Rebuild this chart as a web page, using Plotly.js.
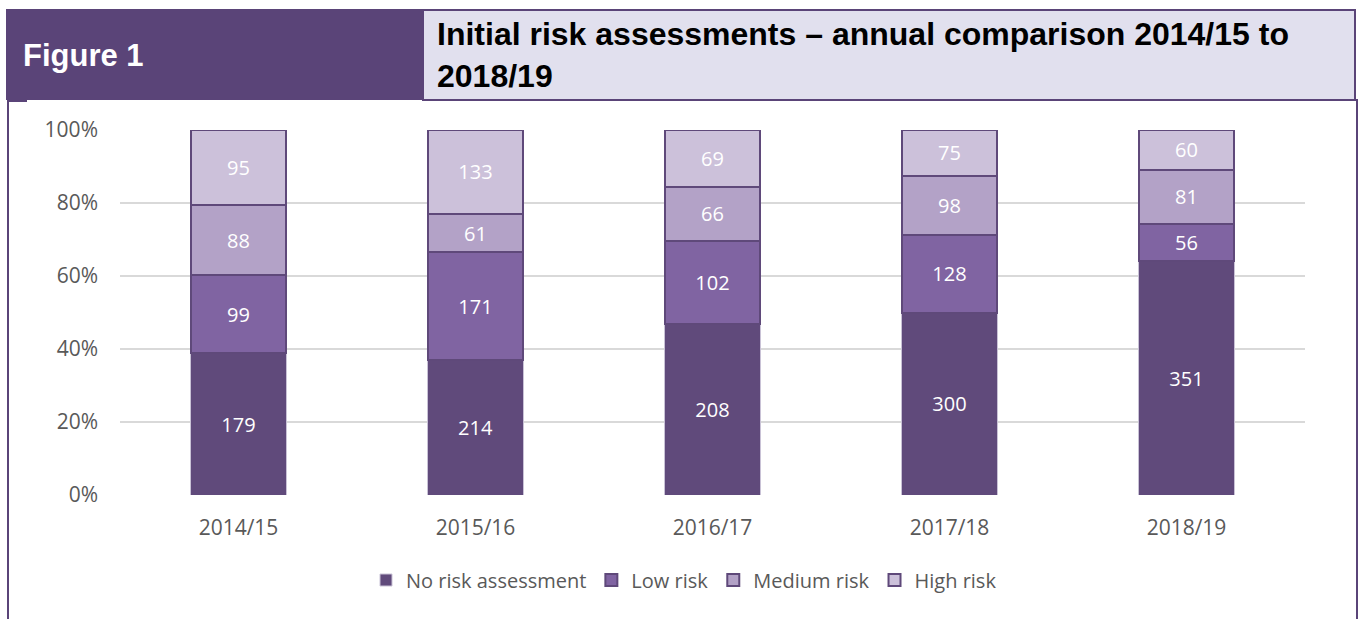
<!DOCTYPE html>
<html>
<head>
<meta charset="utf-8">
<script src="https://cdn.plot.ly/plotly-3.0.1.min.js"></script>
<style>
  html, body { margin: 0; padding: 0; background: #ffffff; }
  #chart { width: 1363px; height: 619px; }
</style>
</head>
<body>
<div id="chart"></div>
<script>
// ---- data ----
var categories = ["2014/15", "2015/16", "2016/17", "2017/18", "2018/19"];
var noRisk     = [179, 214, 208, 300, 351];
var lowRisk    = [99, 171, 102, 128, 56];
var mediumRisk = [88, 61, 66, 98, 81];
var highRisk   = [95, 133, 69, 75, 60];
var seriesNames = ["No risk assessment", "Low risk", "Medium risk", "High risk"];
var yTickVals = [0, 20, 40, 60, 80, 100];
var yTickText = ["0%", "20%", "40%", "60%", "80%", "100%"];
var figureLabel = "Figure 1";
var chartTitle = "Initial risk assessments \u2013 annual comparison 2014/15 to<br>2018/19";

// ---- layout helpers (pixel -> paper) ----
var W = 1363, H = 619;
var M = { l: 120, r: 58, t: 130, b: 124 };
var PW = W - M.l - M.r, PH = H - M.t - M.b;
function fx(px) { return (px - M.l) / PW; }
function fy(py) { return (H - M.b - py) / PH; }

var fillColors = ["#604A7B", "#8064A2", "#B3A2C7", "#CCC1DA"];
var lineColors = ["#C9C2D6", "#5F497A", "#5F497A", "#5F497A"];
var values = [noRisk, lowRisk, mediumRisk, highRisk];

var traces = values.map(function (vals, i) {
  return {
    type: "bar",
    name: seriesNames[i],
    x: categories,
    y: vals,
    text: vals.map(String),
    texttemplate: "%{text}",
    textposition: "inside",
    insidetextanchor: "middle",
    constraintext: "none",
    textangle: 0,
    textfont: { family: "Open Sans, sans-serif", size: 20, color: "#ffffff" },
    marker: { color: fillColors[i], line: { color: lineColors[i], width: i === 0 ? 1 : 2 } },
    hoverinfo: "skip"
  };
});

var purple = "#5A4478";

var layout = {
  width: W, height: H,
  margin: M,
  paper_bgcolor: "#ffffff",
  plot_bgcolor: "#ffffff",
  barmode: "stack",
  barnorm: "percent",
  bargap: 0.595,
  showlegend: true,
  font: { family: "Open Sans, sans-serif", color: "#595959" },
  title: {
    text: chartTitle,
    font: { family: "Liberation Sans, Arial, sans-serif", size: 32, color: "#000000", weight: "bold" },
    xref: "paper", x: fx(437), xanchor: "left",
    yref: "container", y: 1 - 45 / H, yanchor: "middle"
  },
  xaxis: {
    type: "category",
    tickfont: { size: 21, color: "#595959" },
    showgrid: false, showline: false, zeroline: false,
    ticks: "", ticklabelstandoff: 18, fixedrange: true
  },
  yaxis: {
    range: [0, 100],
    tickvals: yTickVals, ticktext: yTickText,
    tickfont: { size: 21, color: "#595959" },
    showgrid: true, gridcolor: "#D9D9D9", gridwidth: 1.5,
    zeroline: false, showline: false, ticks: "", ticklabelstandoff: 21,
    fixedrange: true
  },
  legend: {
    orientation: "h",
    x: fx(684), xanchor: "center",
    y: fy(580), yanchor: "middle",
    traceorder: "normal",
    font: { size: 20, color: "#595959" },
    itemwidth: 30
  },
  shapes: [
    // header purple box
    { type: "rect", xref: "paper", yref: "paper", x0: fx(6), x1: fx(423), y0: fy(100), y1: fy(9),
      fillcolor: purple, line: { width: 0 }, layer: "above" },
    // title box
    { type: "rect", xref: "paper", yref: "paper", x0: fx(423), x1: fx(1355), y0: fy(100), y1: fy(10),
      fillcolor: "#E1E0EE", line: { color: purple, width: 2 }, layer: "above" },
    // frame left
    { type: "line", xref: "paper", yref: "paper", x0: fx(8), x1: fx(8), y0: fy(100), y1: fy(625),
      line: { color: purple, width: 2 } },
    // frame right
    { type: "line", xref: "paper", yref: "paper", x0: fx(1357), x1: fx(1357), y0: fy(100), y1: fy(625),
      line: { color: purple, width: 2 } },
    // small top segments
    { type: "line", xref: "paper", yref: "paper", x0: fx(7), x1: fx(27), y0: fy(101), y1: fy(101),
      line: { color: purple, width: 2 } },
    { type: "line", xref: "paper", yref: "paper", x0: fx(1335), x1: fx(1358), y0: fy(100), y1: fy(100),
      line: { color: purple, width: 2 } }
  ],
  annotations: [
    { text: figureLabel, xref: "paper", yref: "paper", x: fx(21), y: fy(56), xanchor: "left", yanchor: "middle",
      showarrow: false, font: { family: "Liberation Sans, Arial, sans-serif", size: 31, color: "#ffffff", weight: "bold" } }
  ]
};

Plotly.newPlot("chart", traces, layout, { displayModeBar: false, staticPlot: true });
</script>
</body>
</html>
